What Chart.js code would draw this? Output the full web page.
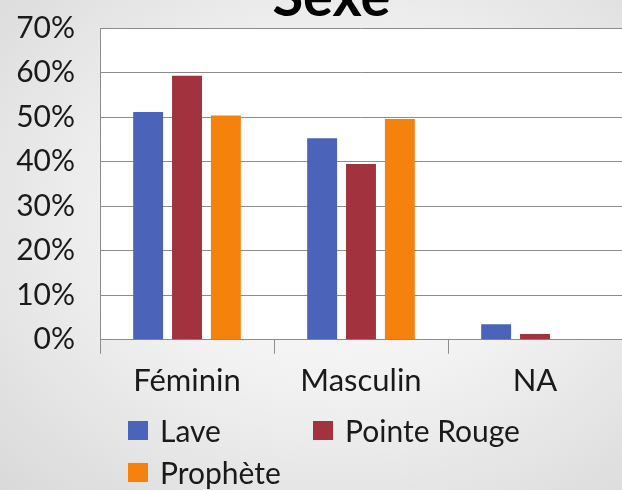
<!DOCTYPE html>
<html lang="fr">
<head>
<meta charset="utf-8">
<title>Sexe</title>
<script src="https://cdn.jsdelivr.net/npm/chart.js@4.4.1/dist/chart.umd.min.js"></script>
<style>
    html, body {
        margin: 0;
        padding: 0;
    }
    body {
        width: 622px;
        height: 490px;
        overflow: hidden;
        position: relative;
        background: radial-gradient(ellipse at 55% 45%, #fbfbfb 0%, #f1f1f1 45%, #d9d9d9 100%);
        font-family: Lato, sans-serif;
    }
    #wrap {
        position: absolute;
        left: 0;
        top: -46px;
        width: 622px;
        height: 536px;
    }
    #legend {
        position: absolute;
        left: 128px;
        top: 412px;
        width: 480px;
        font-size: 30px;
        color: #1a1a1a;
    }
    .item {
        position: absolute;
        white-space: nowrap;
        display: flex;
        align-items: center;
    }
    .box {
        display: inline-block;
        width: 20px;
        height: 19px;
        margin-right: 12px;
    }
</style>
</head>
<body>
<div id="wrap"><canvas id="chart" width="622" height="536"></canvas></div>
<div id="legend"></div>

<script>
// données (en %)
const categories = ['Féminin', 'Masculin', 'NA'];
const seriesNames = ['Lave', 'Pointe Rouge', 'Prophète'];
const lave = [51.2, 45.3, 3.5];
const pointeRouge = [59.3, 39.5, 1.3];
const prophete = [50.4, 49.6, 0];
const yTicks = [0, 10, 20, 30, 40, 50, 60, 70];

const colors = ['#4b63b8', '#a1323e', '#f5820c'];

// fond blanc de la zone de tracé
const plotBackground = {
    id: 'plotBackground',
    beforeDraw(chart) {
        const { ctx, chartArea } = chart;
        ctx.save();
        ctx.fillStyle = '#ffffff';
        ctx.fillRect(chartArea.left, chartArea.top, chartArea.right - chartArea.left, chartArea.bottom - chartArea.top);
        ctx.restore();
    },
};

const chartData = {
    labels: categories,
    datasets: [lave, pointeRouge, prophete].map((values, i) => ({
        label: seriesNames[i],
        data: values,
        backgroundColor: colors[i],
        borderWidth: 0,
        barPercentage: 0.77,
        categoryPercentage: 0.67,
    })),
};

const ctx = document.getElementById('chart').getContext('2d');
const chart = new Chart(ctx, {
    type: 'bar',
    data: chartData,
    plugins: [plotBackground],
    options: {
        responsive: false,
        animation: false,
        devicePixelRatio: 1,
        layout: {
            padding: { left: 0, right: 0, top: 0, bottom: 81 },
        },
        plugins: {
            legend: { display: false },
            tooltip: { enabled: false },
            title: {
                display: true,
                text: '   Sexe',
                color: '#000000',
                font: { family: 'Lato', size: 56, weight: 'bold' },
                padding: { top: 10, bottom: -3 },
            },
        },
        scales: {
            x: {
                grid: {
                    drawOnChartArea: false,
                    drawTicks: true,
                    tickLength: 14,
                    color: '#8c8c8c',
                },
                border: { color: '#8c8c8c' },
                ticks: {
                    color: '#1a1a1a',
                    font: { family: 'Lato', size: 31 },
                    padding: 9,
                    maxRotation: 0,
                },
            },
            y: {
                min: 0,
                max: 70,
                afterFit(scale) {
                    scale.width = 100;
                },
                afterBuildTicks(scale) {
                    scale.ticks = yTicks.map((v) => ({ value: v }));
                },
                grid: {
                    drawTicks: false,
                    color: '#8c8c8c',
                },
                border: { color: '#8c8c8c' },
                ticks: {
                    color: '#1a1a1a',
                    font: { family: 'Lato', size: 30 },
                    padding: 25,
                    callback: (value) => `${value}%`,
                },
            },
        },
    },
});

// légende sur deux lignes, comme dans l'original
const legendPos = [[0, 0], [185, 0], [0, 42]];
const legend = document.getElementById('legend');
chart.data.datasets.forEach((ds, i) => {
    const item = document.createElement('div');
    item.className = 'item';
    item.style.left = `${legendPos[i][0]}px`;
    item.style.top = `${legendPos[i][1]}px`;
    item.innerHTML = `<span class="box" style="background:${ds.backgroundColor}"></span><span>${ds.label}</span>`;
    legend.appendChild(item);
});
</script>
</body>
</html>
